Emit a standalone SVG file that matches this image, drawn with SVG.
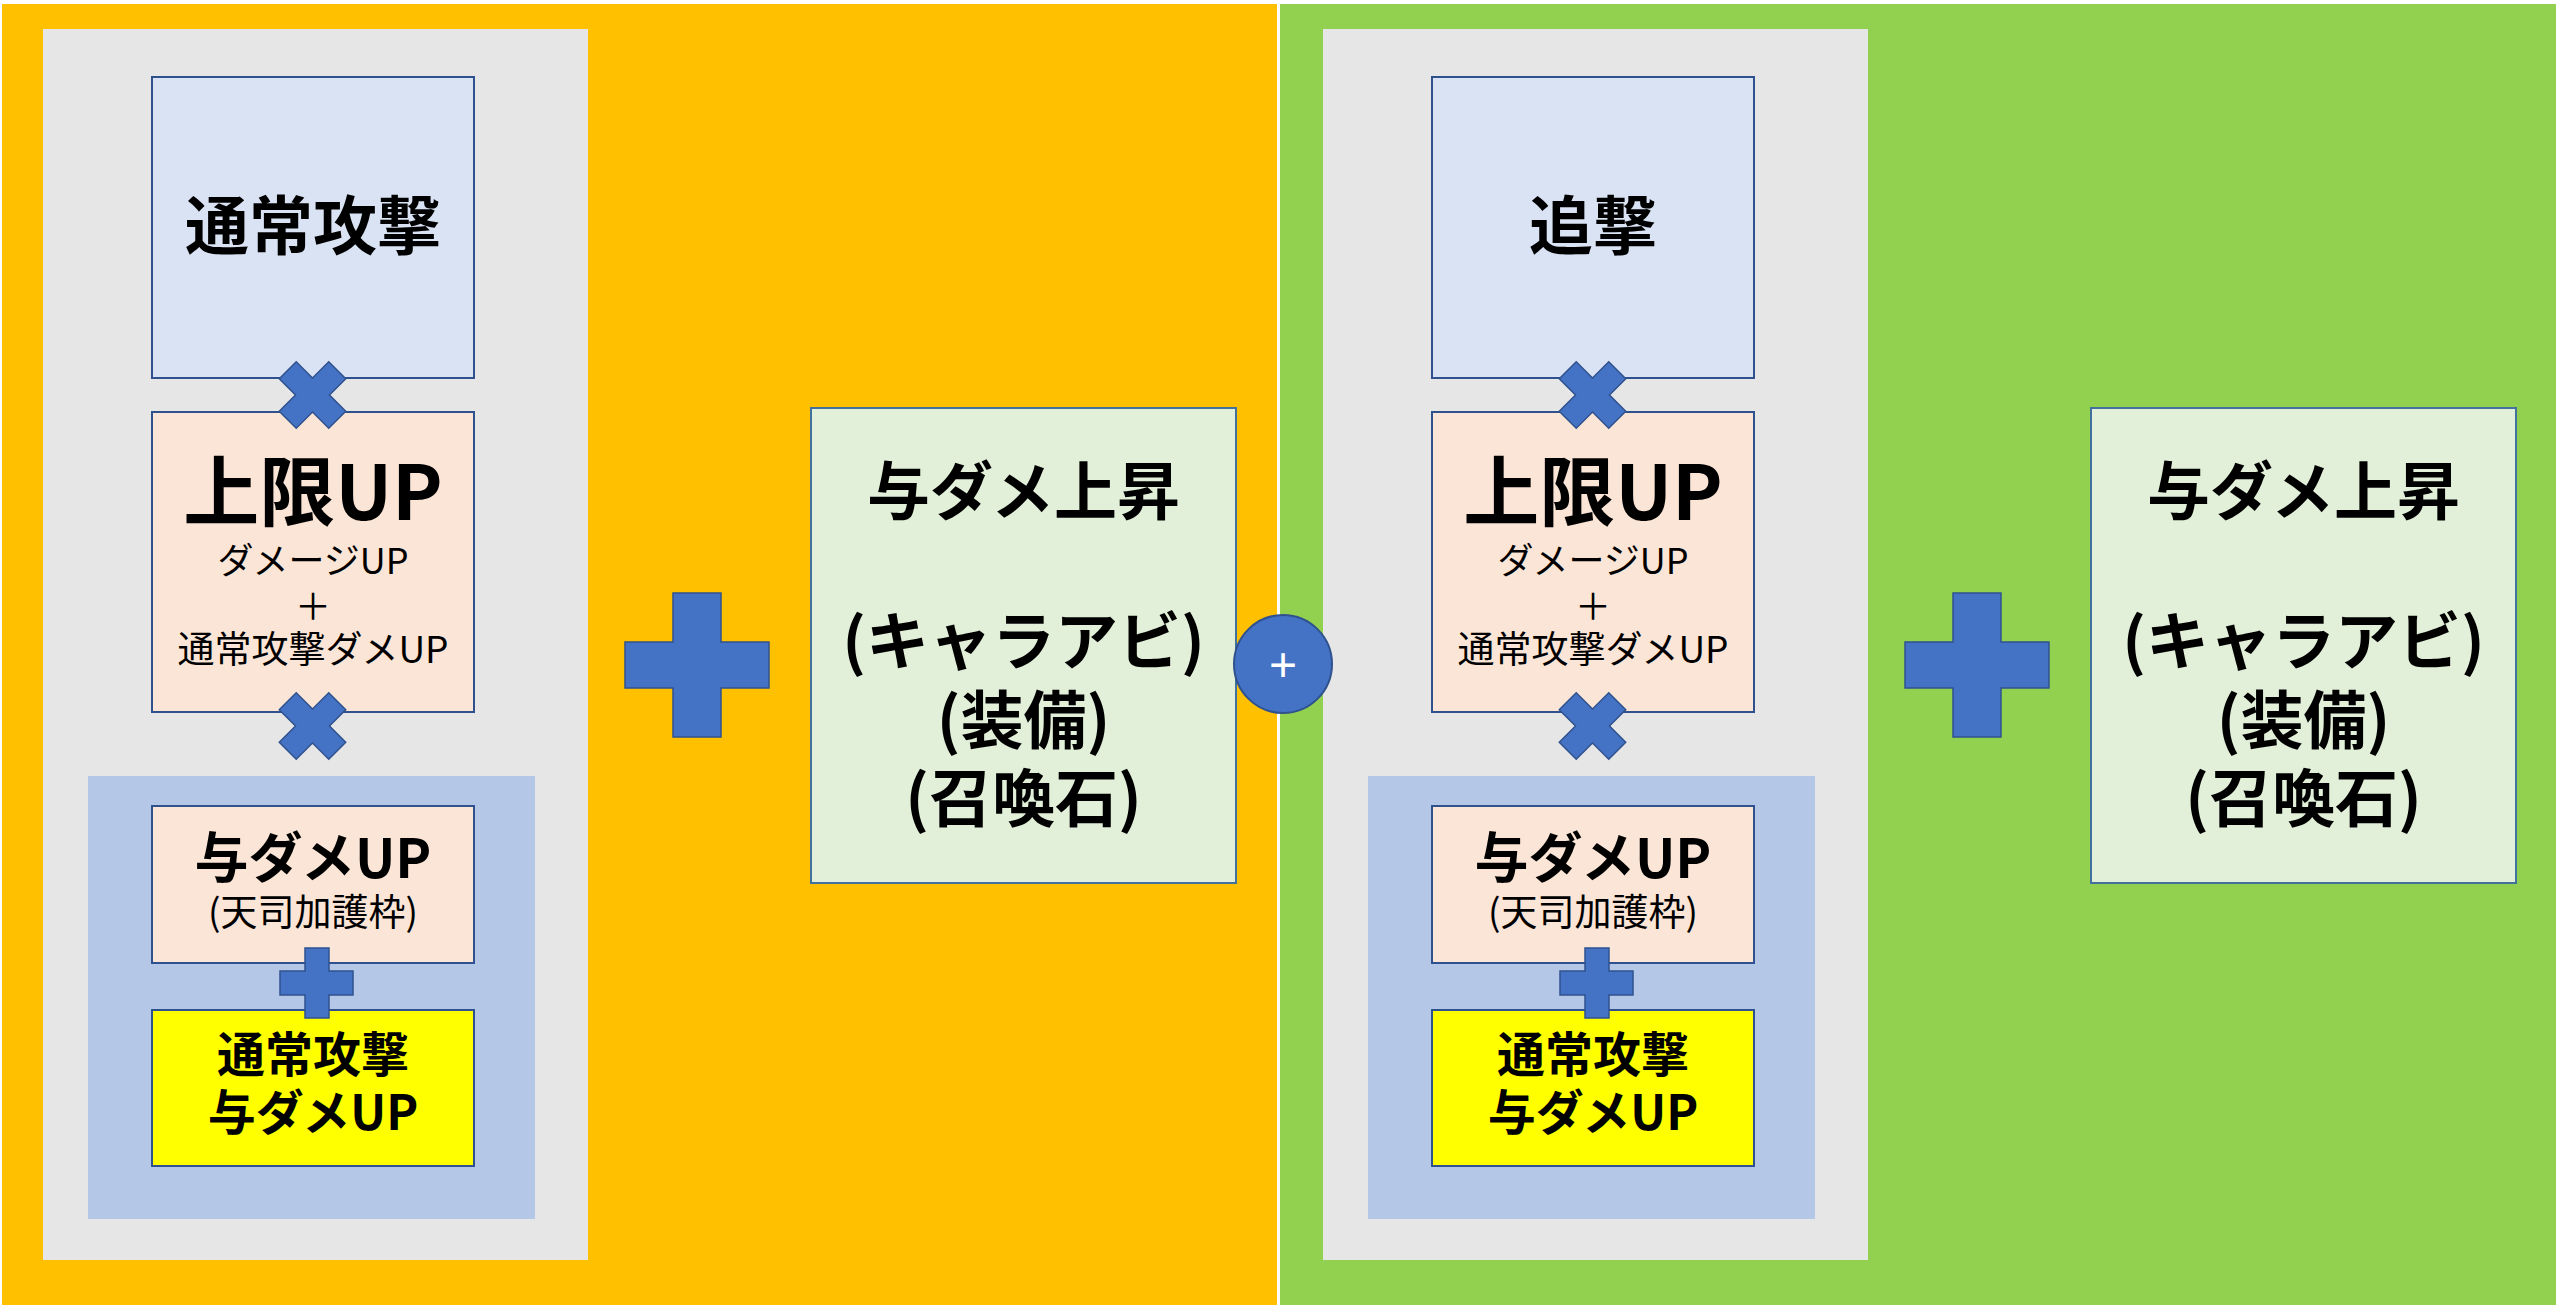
<svg xmlns="http://www.w3.org/2000/svg" width="2560" height="1312" viewBox="0 0 2560 1312">
<defs>
<style>
.t{font-family:"Noto Sans CJK JP","Noto Sans",sans-serif;text-anchor:middle;fill:#000}
.b{font-weight:700}
.r{font-weight:400}
.box{stroke:#2F528F;stroke-width:2}
.sym{fill:#4472C4;stroke:#2F528F;stroke-width:1.5}
</style>
<path id="xmark" d="M12,-35 L12,-12 L35,-12 L35,12 L12,12 L12,35 L-12,35 L-12,12 L-35,12 L-35,-12 L-12,-12 L-12,-35 Z"/>
</defs>
<rect x="0" y="0" width="2560" height="1312" fill="#FFFFFF"/>
<g id="panel-left">
<rect x="2" y="4" width="1275" height="1301" fill="#FFC000"/>
<rect x="43" y="29" width="545" height="1231" fill="#E7E6E6"/>
<rect x="88" y="776" width="447" height="443" fill="#B4C7E7"/>
</g>
<g id="panel-right">
<rect x="1280" y="4" width="1276" height="1301" fill="#92D050"/>
<rect x="1323" y="29" width="545" height="1231" fill="#E7E6E6"/>
<rect x="1368" y="776" width="447" height="443" fill="#B4C7E7"/>
</g>
<g id="node-normal-attack">
<rect class="box" x="152" y="77" width="322" height="301" fill="#DAE3F3"/>
<text class="t b" x="313" y="249" font-size="64">通常攻撃</text>
</g>
<g id="node-limit-up-left">
<rect class="box" x="152" y="412" width="322" height="300" fill="#FBE5D6"/>
<text class="t b" x="313" y="520" font-size="76">上限UP</text>
<text class="t r" x="313" y="574" font-size="36">ダメージUP</text>
<text class="t r" x="313" y="620" font-size="36">＋</text>
<text class="t r" x="313" y="663" font-size="37">通常攻撃ダメUP</text>
</g>
<g id="node-damage-up-left">
<rect class="box" x="152" y="806" width="322" height="157" fill="#FBE5D6"/>
<text class="t b" x="313" y="878" font-size="54">与ダメUP</text>
<text class="t r" x="313" y="926" font-size="37">(天司加護枠)</text>
</g>
<g id="node-normal-damage-left">
<rect class="box" x="152" y="1010" width="322" height="156" fill="#FFFF00"/>
<text class="t b" x="313" y="1072" font-size="48">通常攻撃</text>
<text class="t b" x="313" y="1130" font-size="48">与ダメUP</text>
</g>
<g id="node-bonus-left">
<rect x="811" y="408" width="425" height="475" fill="#E2F0D9" stroke="#41719C" stroke-width="2"/>
<text class="t b" x="1023.5" y="514" font-size="63">与ダメ上昇</text>
<text class="t b" x="1023.5" y="664" font-size="63">(キャラアビ)</text>
<text class="t b" x="1023.5" y="743" font-size="63">(装備)</text>
<text class="t b" x="1023.5" y="821" font-size="63">(召喚石)</text>
</g>
<g id="node-pursuit">
<rect class="box" x="1432" y="77" width="322" height="301" fill="#DAE3F3"/>
<text class="t b" x="1593" y="249" font-size="64">追撃</text>
</g>
<g id="node-limit-up-right">
<rect class="box" x="1432" y="412" width="322" height="300" fill="#FBE5D6"/>
<text class="t b" x="1593" y="520" font-size="76">上限UP</text>
<text class="t r" x="1593" y="574" font-size="36">ダメージUP</text>
<text class="t r" x="1593" y="620" font-size="36">＋</text>
<text class="t r" x="1593" y="663" font-size="37">通常攻撃ダメUP</text>
</g>
<g id="node-damage-up-right">
<rect class="box" x="1432" y="806" width="322" height="157" fill="#FBE5D6"/>
<text class="t b" x="1593" y="878" font-size="54">与ダメUP</text>
<text class="t r" x="1593" y="926" font-size="37">(天司加護枠)</text>
</g>
<g id="node-normal-damage-right">
<rect class="box" x="1432" y="1010" width="322" height="156" fill="#FFFF00"/>
<text class="t b" x="1593" y="1072" font-size="48">通常攻撃</text>
<text class="t b" x="1593" y="1130" font-size="48">与ダメUP</text>
</g>
<g id="node-bonus-right">
<rect x="2091" y="408" width="425" height="475" fill="#E2F0D9" stroke="#41719C" stroke-width="2"/>
<text class="t b" x="2303.5" y="514" font-size="63">与ダメ上昇</text>
<text class="t b" x="2303.5" y="664" font-size="63">(キャラアビ)</text>
<text class="t b" x="2303.5" y="743" font-size="63">(装備)</text>
<text class="t b" x="2303.5" y="821" font-size="63">(召喚石)</text>
</g>
<g id="connectors">
<use href="#xmark" class="sym" transform="translate(312.5,395) rotate(45)"/>
<use href="#xmark" class="sym" transform="translate(312.5,726) rotate(45)"/>
<use href="#xmark" class="sym" transform="translate(1592.5,395) rotate(45)"/>
<use href="#xmark" class="sym" transform="translate(1592.5,726) rotate(45)"/>
<path class="sym" d="M305,948 H329 V971 H353 V995 H329 V1018 H305 V995 H280 V971 H305 Z"/>
<path class="sym" d="M1585,948 H1609 V971 H1633 V995 H1609 V1018 H1585 V995 H1560 V971 H1585 Z"/>
<path class="sym" d="M673,593 H721 V642 H769 V688 H721 V737 H673 V688 H625 V642 H673 Z"/>
<path class="sym" d="M1953,593 H2001 V642 H2049 V688 H2001 V737 H1953 V688 H1905 V642 H1953 Z"/>
<g id="join">
<circle cx="1283" cy="664" r="49" fill="#4472C4" stroke="#2F528F" stroke-width="2"/>
<text x="1283" y="681" font-family="Liberation Sans, sans-serif" font-size="48" fill="#FFFFFF" text-anchor="middle">+</text>
</g>
</g>
</svg>
